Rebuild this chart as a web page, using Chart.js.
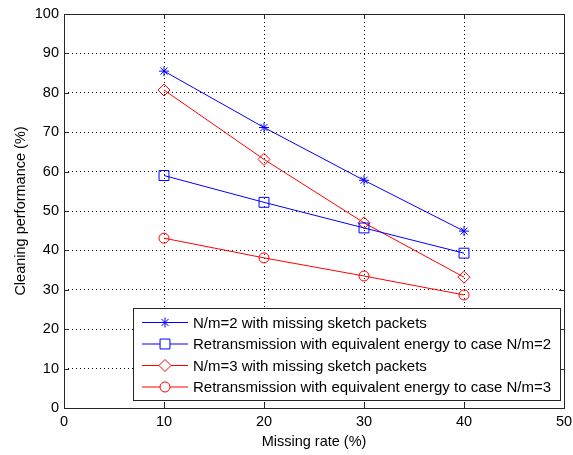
<!DOCTYPE html>
<html>
<head>
<meta charset="utf-8">
<script src="https://cdn.jsdelivr.net/npm/chart.js@4.4.1/dist/chart.umd.min.js"></script>
<style>
  html, body { margin: 0; padding: 0; background: #fff; }
  #wrap { width: 573px; height: 455px; }
</style>
</head>
<body>
<div id="wrap"><canvas id="chart" width="573" height="455"></canvas></div>
<script>
'use strict'

// data
const missingRates = [10, 20, 30, 40]
const nm2Missing = [85.5, 71.2, 57.8, 44.9]
const nm2Retrans = [59.0, 52.2, 45.7, 39.3]
const nm3Missing = [80.7, 63.1, 47.0, 33.2]
const nm3Retrans = [43.1, 38.1, 33.5, 28.7]

const seriesLabels = [
    'N/m=2 with missing sketch packets',
    'Retransmission with equivalent energy to case N/m=2',
    'N/m=3 with missing sketch packets',
    'Retransmission with equivalent energy to case N/m=3'
]

const FONT = 'Arial, "Liberation Sans", sans-serif'
const FSIZE = 14.5
const BLUE = '#0000ff'
const RED = '#ff0000'

const toPoints = vals => vals.map((v, i) => ({x: missingRates[i], y: v}))

const makeSet = (label, vals, color, style, radius) => ({
    label: label,
    data: toPoints(vals),
    borderColor: color,
    backgroundColor: color,
    borderWidth: 1,
    pointStyle: style,
    pointRadius: radius,
    pointBorderWidth: 1,
    pointBackgroundColor: 'rgba(0,0,0,0)',
    pointBorderColor: color,
    tension: 0
})

const datasets = [
    makeSet(seriesLabels[0], nm2Missing, BLUE, 'star', 5),
    makeSet(seriesLabels[1], nm2Retrans, BLUE, 'rect', 7),
    makeSet(seriesLabels[2], nm3Missing, RED, 'rectRot', 6),
    makeSet(seriesLabels[3], nm3Retrans, RED, 'circle', 5)
]

// box around the plot plus inward tick marks, matlab style
const boxPlugin = {
    id: 'box',
    afterDatasetsDraw(chart) {
        const {ctx, chartArea: a, scales} = chart
        ctx.save()
        ctx.strokeStyle = '#262626'
        ctx.lineWidth = 1
        ctx.beginPath()
        for (const t of scales.x.ticks) {
            const px = Math.round(scales.x.getPixelForValue(t.value)) + 0.5
            ctx.moveTo(px, a.bottom); ctx.lineTo(px, a.bottom - 5)
            ctx.moveTo(px, a.top); ctx.lineTo(px, a.top + 5)
        }
        for (const t of scales.y.ticks) {
            const py = Math.round(scales.y.getPixelForValue(t.value)) + 0.5
            ctx.moveTo(a.left, py); ctx.lineTo(a.left + 5, py)
            ctx.moveTo(a.right, py); ctx.lineTo(a.right - 5, py)
        }
        ctx.stroke()
        ctx.strokeRect(Math.round(a.left) + 0.5, Math.round(a.top) + 0.5,
            Math.round(a.right - a.left), Math.round(a.bottom - a.top))
        ctx.restore()
    }
}

// legend box inside the plot, bottom right
const legendPlugin = {
    id: 'innerLegend',
    afterDraw(chart) {
        const {ctx} = chart
        const x0 = 133.5, y0 = 308.5, w = 427, h = 92
        ctx.save()
        ctx.fillStyle = '#fff'
        ctx.fillRect(x0, y0, w, h)
        ctx.strokeStyle = '#262626'
        ctx.lineWidth = 1
        ctx.strokeRect(x0, y0, w, h)
        ctx.font = '15px ' + FONT
        ctx.textBaseline = 'middle'
        chart.data.datasets.forEach((ds, i) => {
            const y = 322.5 + i * 21.5
            ctx.strokeStyle = ds.borderColor
            ctx.lineWidth = 1
            ctx.beginPath()
            ctx.moveTo(142, y); ctx.lineTo(188, y)
            ctx.stroke()
            ctx.fillStyle = '#fff'
            Chart.helpers.drawPoint(ctx, {pointStyle: ds.pointStyle, radius: ds.pointRadius, rotation: 0, borderWidth: 1}, 165, y)
            ctx.fillStyle = '#000'
            ctx.fillText(ds.label, 193, y + 1)
        })
        ctx.restore()
    }
}

const config = {
    type: 'line',
    data: {datasets: datasets},
    options: {
        responsive: false,
        animation: false,
        layout: {padding: {top: 14, right: 0, left: 12, bottom: 0}},
        plugins: {
            legend: {display: false},
            tooltip: {enabled: false}
        },
        scales: {
            x: {
                type: 'linear',
                min: 0,
                max: 50,
                ticks: {stepSize: 10, color: '#000', font: {family: FONT, size: FSIZE}, padding: 5, maxRotation: 0},
                grid: {color: '#000', lineWidth: 1, drawTicks: false, tickLength: 0},
                border: {display: false, dash: [1, 3]},
                title: {display: true, text: 'Missing rate (%)', color: '#000', font: {family: FONT, size: FSIZE}, padding: {top: 1}},
                afterFit: s => { s.height = 47; s.paddingRight = 9; s.paddingLeft = 0 }
            },
            y: {
                min: 0,
                max: 100,
                ticks: {stepSize: 10, color: '#000', font: {family: FONT, size: FSIZE}, padding: 5},
                grid: {color: '#000', lineWidth: 1, drawTicks: false, tickLength: 0},
                border: {display: false, dash: [1, 3]},
                title: {display: true, text: 'Cleaning performance (%)', color: '#000', font: {family: FONT, size: FSIZE}, padding: {top: 0, bottom: 4}},
                afterFit: s => { s.width = 52; s.paddingTop = 0; s.paddingBottom = 0 }
            }
        }
    },
    plugins: [boxPlugin, legendPlugin]
}

const myChart = new Chart(document.getElementById('chart').getContext('2d'), config)
</script>
</body>
</html>
